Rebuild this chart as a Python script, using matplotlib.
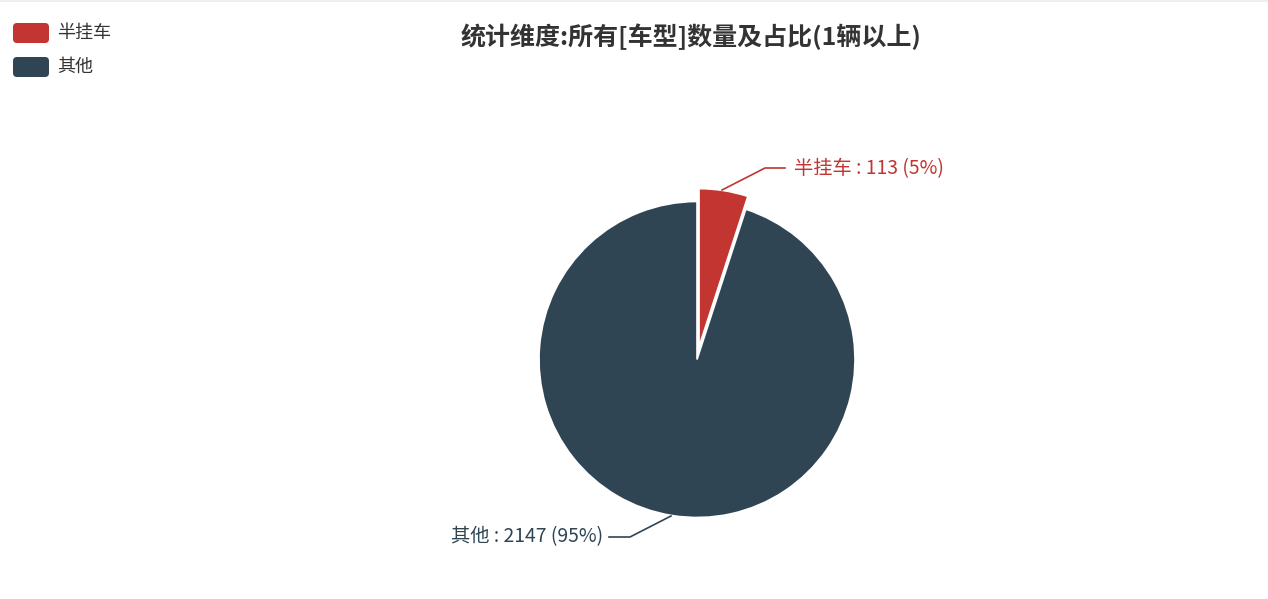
import matplotlib
matplotlib.use("Agg")
from matplotlib import pyplot as plt
from matplotlib.patches import FancyBboxPatch, Rectangle

plt.rcParams['font.family'] = ['Noto Sans CJK SC', 'DejaVu Sans']

# data
categories = ["半挂车", "其他"]
counts = [113, 2147]
percents = ["5%", "95%"]
colors = ["#c23531", "#2f4554"]
title = "统计维度:所有[车型]数量及占比(1辆以上)"

W, H = 1268, 599
fig = plt.figure(figsize=(W / 100, H / 100), dpi=100)
ax = fig.add_axes([0, 0, 1, 1])
ax.set_xlim(0, W)
ax.set_ylim(0, H)
ax.axis("off")


def py(y):
    # pixel row from the top -> data y
    return H - y


# thin top border line
ax.add_patch(Rectangle((0, py(2)), W, 2, color="#eeeeee", lw=0))

# pie
cx, cy, r = 697, py(359.5), 158
wedges, _ = ax.pie(counts, colors=colors, startangle=90, counterclock=False,
                   center=(cx, cy), radius=r, explode=[13, 0],
                   wedgeprops=dict(edgecolor="white", linewidth=1.2))
ax.set_xlim(0, W)
ax.set_ylim(0, H)
ax.set_aspect("auto")

# label lines and labels
ax.plot([722, 765, 785], [py(190), py(168), py(168)], color=colors[0], lw=1.2)
ax.text(794, py(169), f"{categories[0]} : {counts[0]} ({percents[0]})",
        color=colors[0], fontsize=13.9, ha="left", va="center")

ax.plot([671, 630, 609], [py(516), py(537), py(537)], color=colors[1], lw=1.2)
ax.text(603, py(537), f"{categories[1]} : {counts[1]} ({percents[1]})",
        color=colors[1], fontsize=13.9, ha="right", va="center")

# title
ax.text(691, py(37), title, fontsize=18, fontweight="bold", color="#333333",
        ha="center", va="center")

# legend
for i, (name, c) in enumerate(zip(categories, colors)):
    yc = 33 + i * 34
    ax.add_patch(FancyBboxPatch((13 + 4, py(yc) - 10 + 4), 36 - 8, 20 - 8,
                                boxstyle="round,pad=4", color=c, lw=0))
    ax.text(57, py(yc), name, fontsize=13, color="#333333", ha="left", va="center")

fig.savefig("out.png", dpi=100)
